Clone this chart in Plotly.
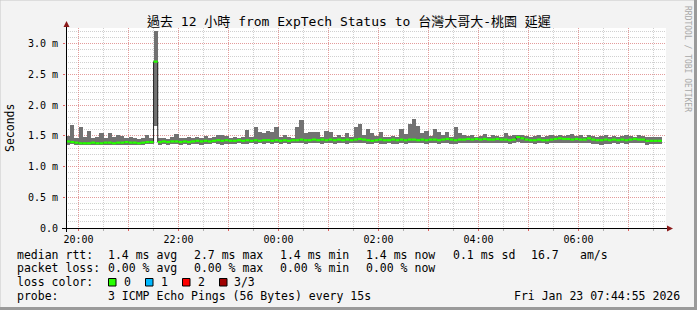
import plotly.graph_objects as go
from datetime import datetime, timedelta

# ---------------- data ----------------
graph_start = datetime(2026, 1, 22, 19, 44, 55)
graph_end = datetime(2026, 1, 23, 7, 44, 55)
first_slot = datetime(2026, 1, 22, 19, 45, 0)
step_minutes = 5

median_ms = [
    1.41, 1.40, 1.39, 1.38, 1.38, 1.38, 1.39, 1.38, 1.38, 1.39,
    1.39, 1.38, 1.39, 1.39, 1.40, 1.39, 1.39, 1.38, 1.39, 1.40,
    1.40, 2.71,
    1.40, 1.41, 1.40, 1.41, 1.41, 1.40, 1.41, 1.40,
    1.41, 1.42, 1.41, 1.42, 1.41, 1.42, 1.43, 1.42, 1.43, 1.42,
    1.42, 1.43, 1.42, 1.43, 1.42, 1.43, 1.42, 1.43, 1.43, 1.42,
    1.43, 1.42, 1.43, 1.42, 1.43, 1.43, 1.44, 1.43, 1.43, 1.44,
    1.43, 1.44, 1.43, 1.44, 1.43, 1.44, 1.43, 1.44, 1.43, 1.44, 1.45, 1.44,
    1.43, 1.42, 1.43, 1.44, 1.43, 1.43, 1.44, 1.43, 1.44, 1.43, 1.44, 1.44,
    1.43, 1.44, 1.43, 1.44, 1.44, 1.43, 1.44, 1.45, 1.44, 1.43, 1.44, 1.44,
    1.45, 1.44, 1.45, 1.44, 1.45, 1.44, 1.44, 1.45, 1.44, 1.44, 1.43, 1.44,
    1.48, 1.46, 1.44, 1.43, 1.43, 1.44, 1.43, 1.43, 1.44, 1.45, 1.46, 1.45,
    1.45, 1.44, 1.45, 1.44, 1.44, 1.46, 1.44, 1.43, 1.43, 1.44, 1.43, 1.44,
    1.43, 1.44, 1.43, 1.44, 1.45, 1.44, 1.44, 1.42, 1.42, 1.42, 1.42,
]
max_ms = [
    1.50, 1.68, 1.47, 1.64, 1.49, 1.58, 1.47, 1.48, 1.54, 1.46,
    1.54, 1.49, 1.52, 1.50, 1.46, 1.48, 1.46, 1.45, 1.47, 1.51,
    1.47, 3.21,
    1.46, 1.47, 1.45, 1.48, 1.53, 1.47, 1.46, 1.48,
    1.47, 1.48, 1.46, 1.50, 1.47, 1.49, 1.51, 1.52, 1.50, 1.47,
    1.48, 1.47, 1.49, 1.59, 1.48, 1.64, 1.56, 1.55, 1.58, 1.57,
    1.64, 1.48, 1.52, 1.49, 1.47, 1.64, 1.76, 1.55, 1.57, 1.57,
    1.56, 1.49, 1.58, 1.57, 1.48, 1.51, 1.49, 1.55, 1.48, 1.65, 1.70, 1.52,
    1.61, 1.55, 1.50, 1.57, 1.49, 1.48, 1.50, 1.49, 1.61, 1.53, 1.70, 1.77,
    1.66, 1.55, 1.58, 1.50, 1.61, 1.57, 1.52, 1.57, 1.49, 1.64, 1.55, 1.52,
    1.50, 1.52, 1.49, 1.50, 1.53, 1.49, 1.52, 1.50, 1.49, 1.55, 1.50, 1.51,
    1.52, 1.51, 1.50, 1.49, 1.50, 1.51, 1.49, 1.50, 1.52, 1.50, 1.51, 1.50,
    1.51, 1.53, 1.50, 1.51, 1.49, 1.52, 1.50, 1.49, 1.50, 1.51, 1.48, 1.50,
    1.49, 1.50, 1.51, 1.50, 1.49, 1.51, 1.50, 1.49, 1.49, 1.48, 1.49,
]
min_ms = [
    1.36, 1.37, 1.35, 1.35, 1.36, 1.35, 1.36, 1.35, 1.35, 1.36,
    1.36, 1.35, 1.36, 1.36, 1.36, 1.35, 1.36, 1.35, 1.36, 1.37,
    1.37, 1.66,
    1.36, 1.37, 1.36, 1.37, 1.37, 1.36, 1.37, 1.36,
    1.37, 1.37, 1.36, 1.37, 1.37, 1.38, 1.37, 1.36, 1.37, 1.37,
    1.37, 1.38, 1.37, 1.37, 1.38, 1.37, 1.38, 1.37, 1.38, 1.37,
    1.38, 1.37, 1.38, 1.37, 1.38, 1.38, 1.38, 1.37, 1.38, 1.38,
    1.38, 1.37, 1.38, 1.38, 1.37, 1.38, 1.38, 1.37, 1.38, 1.38, 1.39, 1.38,
    1.37, 1.37, 1.38, 1.37, 1.37, 1.38, 1.37, 1.37, 1.38, 1.37, 1.38, 1.38,
    1.38, 1.38, 1.37, 1.38, 1.38, 1.37, 1.38, 1.38, 1.37, 1.37, 1.38, 1.38,
    1.39, 1.38, 1.39, 1.38, 1.39, 1.38, 1.38, 1.39, 1.38, 1.38, 1.37, 1.38,
    1.40, 1.39, 1.38, 1.38, 1.37, 1.38, 1.38, 1.37, 1.38, 1.39, 1.39, 1.38,
    1.38, 1.38, 1.39, 1.38, 1.38, 1.39, 1.37, 1.37, 1.36, 1.37, 1.37, 1.38,
    1.37, 1.38, 1.37, 1.38, 1.38, 1.38, 1.38, 1.36, 1.37, 1.37, 1.37,
]

y_tick_values = [0.0, 0.5, 1.0, 1.5, 2.0, 2.5, 3.0]
y_tick_labels = ["0.0", "0.5 m", "1.0 m", "1.5 m", "2.0 m", "2.5 m", "3.0 m"]
x_label_hours = ["20:00", "22:00", "00:00", "02:00", "04:00", "06:00"]

title_text = "過去 12 小時 from ExpTech Status to 台灣大哥大-桃園 延遲"
legend_rows = [
    ["median rtt:", "1.4 ms avg", "2.7 ms max", "1.4 ms min", "1.4 ms now", "0.1 ms sd", "16.7", "am/s"],
    ["packet loss:", "0.00 % avg", "0.00 % max", "0.00 % min", "0.00 % now"],
]
loss_labels = ["0", "1", "2", "3/3"]
loss_colors = ["#26ff00", "#00b8ff", "#ff0000", "#a00000"]
probe_text = "3 ICMP Echo Pings (56 Bytes) every 15s"
stamp_text = "Fri Jan 23 07:44:55 2026"

# ---------------- geometry helpers ----------------
W, H = 697, 310
L, R, T, B = 66, 31, 28, 82
PW, PH = W - L - R, H - T - B


def px(x):
    return (x - L) / PW


def py(y):
    return (H - B - y) / PH


MONO = "DejaVu Sans Mono, Noto Sans CJK TC, monospace"

step = timedelta(minutes=step_minutes)
n = len(median_ms)
slot_start = [first_slot + step * i for i in range(n)]
slot_mid = [s + step / 2 for s in slot_start]
slot_end = [s + step for s in slot_start]

fig = go.Figure()

# smoke
fig.add_trace(go.Bar(
    x=slot_mid, base=min_ms, y=[hi - lo for hi, lo in zip(max_ms, min_ms)],
    width=step_minutes * 60 * 1000, marker=dict(color="#727272", line=dict(width=0)),
    hoverinfo="skip",
))
# dark median step line
fig.add_trace(go.Scatter(
    x=slot_start + [slot_end[-1]], y=median_ms + [median_ms[-1]],
    mode="lines", line=dict(shape="hv", color="#202020", width=1), hoverinfo="skip",
))
# green median band (loss 0)
gx, gy = [], []
for s, e, m in zip(slot_start, slot_end, median_ms):
    gx += [s, e, None]
    gy += [m, m, None]
fig.add_trace(go.Scatter(
    x=gx, y=gy, mode="lines", line=dict(color=loss_colors[0], width=2.2), hoverinfo="skip",
))

# hourly ticks, labels on even hours
hour0 = datetime(2026, 1, 22, 20, 0, 0)
hour_ticks = [hour0 + timedelta(hours=h) for h in range(12)]
hour_text = [t.strftime("%H:%M") if t.strftime("%H:%M") in x_label_hours else "" for t in hour_ticks]

MAJ = "rgba(240,120,120,0.6)"
MIN = "rgba(150,150,150,0.45)"

fig.update_layout(
    width=W, height=H, margin=dict(l=L, r=R, t=T, b=B),
    paper_bgcolor="#f3f3f3", plot_bgcolor="#ffffff",
    showlegend=False, bargap=0,
    font=dict(family=MONO, size=10, color="#000000"),
    xaxis=dict(
        type="date", range=[graph_start, graph_end],
        tickmode="array", tickvals=hour_ticks, ticktext=hour_text,
        showgrid=True, gridcolor=MAJ, griddash="1px,1px", gridwidth=1,
        ticks="outside", ticklen=2, tickcolor="#e06060", tickwidth=1,
        minor=dict(dtick=30 * 60 * 1000, showgrid=True, gridcolor=MIN, griddash="1px,1px",
                   ticks="outside", ticklen=2, tickcolor="#b0b0b0"),
        showline=False, zeroline=False, fixedrange=True,
        tickfont=dict(family=MONO, size=10),
    ),
    yaxis=dict(
        range=[0, PH / 61.4], tickmode="array", tickvals=y_tick_values, ticktext=y_tick_labels,
        showgrid=True, gridcolor=MAJ, griddash="1px,1px", gridwidth=1,
        ticks="outside", ticklen=2, tickcolor="#e06060", ticklabelstandoff=3,
        minor=dict(dtick=0.1, showgrid=True, gridcolor=MIN, griddash="1px,1px"),
        showline=False, zeroline=False, fixedrange=True,
        tickfont=dict(family=MONO, size=10),
    ),
)

shapes = []
# axes lines and arrows
shapes.append(dict(type="line", xref="paper", yref="paper", x0=px(62), x1=px(669), y0=py(228.5), y1=py(228.5),
                   line=dict(color="#000000", width=1)))
shapes.append(dict(type="line", xref="paper", yref="paper", x0=px(66.5), x1=px(66.5), y0=py(232), y1=py(25),
                   line=dict(color="#000000", width=1)))
shapes.append(dict(type="path", xref="paper", yref="paper",
                   path=f"M {px(667)},{py(225.5)} L {px(673)},{py(228.5)} L {px(667)},{py(231.5)} Z",
                   fillcolor="#8b1a1a", line=dict(width=0)))
shapes.append(dict(type="path", xref="paper", yref="paper",
                   path=f"M {px(63.5)},{py(27)} L {px(66.5)},{py(21)} L {px(69.5)},{py(27)} Z",
                   fillcolor="#8b1a1a", line=dict(width=0)))
# loss colour boxes
box_x = [108.5, 145.5, 182.5, 219.5]
for bx, c in zip(box_x, loss_colors):
    shapes.append(dict(type="rect", xref="paper", yref="paper", x0=px(bx), x1=px(bx + 7.5),
                       y0=py(278.5), y1=py(286), fillcolor=c, line=dict(color="#000000", width=1)))
# frame (3D border)
shapes.append(dict(type="rect", xref="paper", yref="paper", x0=px(0), x1=px(697), y0=py(0), y1=py(310),
                   fillcolor="rgba(0,0,0,0)", line=dict(color="#c8c8c8", width=1)))
shapes.append(dict(type="line", xref="paper", yref="paper", x0=px(695.5), x1=px(695.5), y0=py(0), y1=py(310),
                   line=dict(color="#9a9a9a", width=3)))
shapes.append(dict(type="line", xref="paper", yref="paper", x0=px(0), x1=px(697), y0=py(308.5), y1=py(308.5),
                   line=dict(color="#9a9a9a", width=3)))
fig.update_layout(shapes=shapes)

ann = []


def text(x, y, s, anchor="left", size=11.5, **kw):
    ann.append(dict(xref="paper", yref="paper", x=px(x), y=py(y), text=s, showarrow=False,
                    xanchor=anchor, yanchor="middle", borderpad=0,
                    font=dict(family=MONO, size=size, color=kw.pop("color", "#000000")), **kw))


text(348.5, 21.5, title_text, anchor="center", size=13)
text(10, 128, "Seconds", anchor="center", textangle=-90)
text(688, 59, "RRDTOOL / TOBI OETIKER", anchor="center", size=8, color="#a8a8a8", textangle=90)

row_y = [254.5, 268.2, 282.2, 296.2]
col_x = [16, 107.3, 193.3, 279.3, 365, 451.7, 530, 579.3]
for r, row in enumerate(legend_rows):
    for c, s in enumerate(row):
        text(col_x[c], row_y[r], s)
text(16, row_y[2], "loss color:")
for lx, s in zip([123.3, 160, 197, 233], loss_labels):
    text(lx, row_y[2], s)
text(16, row_y[3], "probe:")
text(107.3, row_y[3], probe_text)
text(680.5, row_y[3], stamp_text, anchor="right")

fig.update_layout(annotations=ann)
fig.write_html("out.html")
